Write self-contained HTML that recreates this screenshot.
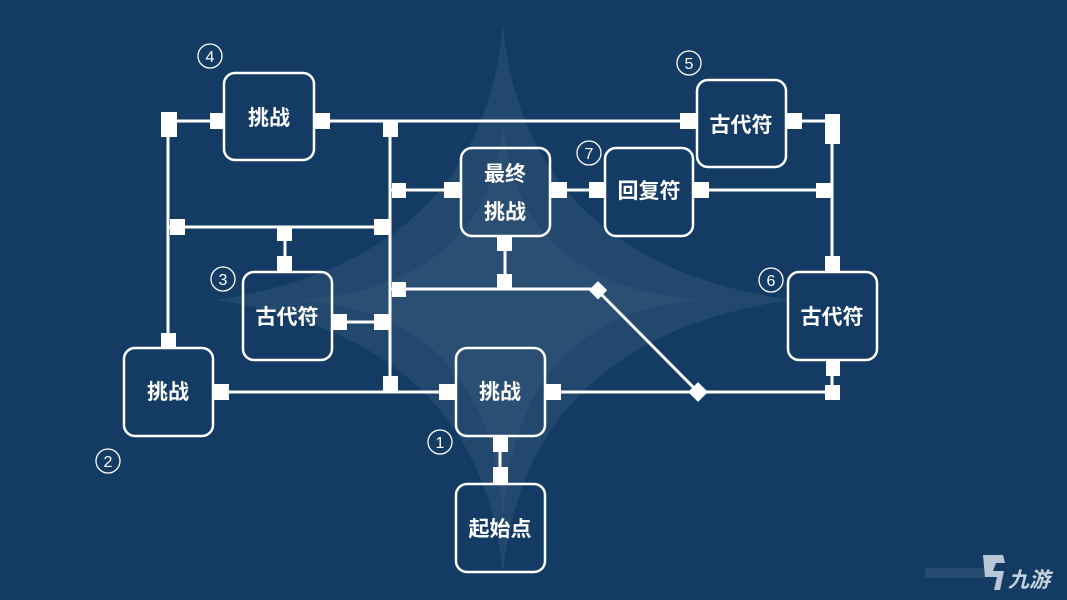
<!DOCTYPE html>
<html><head><meta charset="utf-8"><style>
html,body{margin:0;padding:0;background:#133b63;}
svg{display:block}
.n{fill:none;stroke:#fff;stroke-width:2.5}
.t{fill:#fff;font-family:"Liberation Sans","Noto Sans CJK SC",sans-serif;font-weight:bold;font-size:21px;text-anchor:middle}
.c{fill:none;stroke:#fff;stroke-width:1.3}
.ct{fill:#fff;font-family:"Liberation Sans",sans-serif;font-size:16px;text-anchor:middle}
</style></head><body>
<svg width="1067" height="600" viewBox="0 0 1067 600" xmlns="http://www.w3.org/2000/svg">
<rect width="1067" height="600" fill="#133b63"/>
<path d="M503,25 Q525,260 790,300 Q525,340 503,575 Q481,340 215,300 Q481,260 503,25 Z" fill="#ffffff" fill-opacity="0.065"/>
<path d="M503,120 Q515,285 700,300 Q515,315 503,520 Q491,315 300,300 Q491,285 503,120 Z" fill="#ffffff" fill-opacity="0.04"/>
<g stroke="#fff" stroke-width="3" fill="none">
<line x1="168" y1="121" x2="168" y2="345"/>
<line x1="168" y1="121" x2="224" y2="121"/>
<line x1="314" y1="121" x2="697" y2="121"/>
<line x1="786" y1="121" x2="832" y2="121"/>
<line x1="390" y1="121" x2="390" y2="392"/>
<line x1="168" y1="227" x2="390" y2="227"/>
<line x1="285" y1="227" x2="285" y2="272"/>
<line x1="390" y1="190" x2="461" y2="190"/>
<line x1="550" y1="190" x2="605" y2="190"/>
<line x1="693" y1="190" x2="832" y2="190"/>
<line x1="832" y1="121" x2="832" y2="272"/>
<line x1="390" y1="289" x2="598" y2="289"/>
<line x1="505" y1="236" x2="505" y2="289"/>
<line x1="598" y1="291" x2="698" y2="392"/>
<line x1="332" y1="322" x2="390" y2="322"/>
<line x1="213" y1="392" x2="456" y2="392"/>
<line x1="545" y1="392" x2="832" y2="392"/>
<line x1="832" y1="360" x2="832" y2="392"/>
<line x1="500" y1="436" x2="500" y2="484"/>
</g>
<g fill="#fff">
<rect x="161" y="112" width="16" height="25"/>
<rect x="210" y="113" width="15" height="16"/>
<rect x="314" y="113" width="16" height="16"/>
<rect x="383" y="121" width="15" height="16"/>
<rect x="680" y="113" width="17" height="16"/>
<rect x="786" y="113" width="16" height="16"/>
<rect x="825" y="114" width="15" height="30"/>
<rect x="392" y="183" width="14" height="15"/>
<rect x="444" y="182" width="17" height="16"/>
<rect x="550" y="182" width="17" height="16"/>
<rect x="589" y="182" width="16" height="16"/>
<rect x="693" y="182" width="16" height="16"/>
<rect x="816" y="183" width="16" height="15"/>
<rect x="170" y="219" width="15" height="16"/>
<rect x="374" y="219" width="16" height="16"/>
<rect x="277" y="226" width="15" height="15"/>
<rect x="277" y="256" width="15" height="16"/>
<rect x="825" y="256" width="15" height="16"/>
<rect x="497" y="236" width="15" height="15"/>
<rect x="497" y="274" width="15" height="15"/>
<rect x="392" y="282" width="14" height="15"/>
<rect x="332" y="314" width="15" height="16"/>
<rect x="374" y="314" width="16" height="16"/>
<rect x="161" y="333" width="15" height="15"/>
<rect x="213" y="384" width="16" height="16"/>
<rect x="383" y="376" width="15" height="16"/>
<rect x="439" y="384" width="17" height="16"/>
<rect x="545" y="384" width="16" height="16"/>
<rect x="826" y="360" width="14" height="16"/>
<rect x="825" y="385" width="15" height="15"/>
<rect x="493" y="436" width="15" height="16"/>
<rect x="493" y="467" width="15" height="17"/>
<rect x="591" y="284" width="13" height="13" transform="rotate(45 598 291)"/>
<rect x="691" y="385" width="14" height="14" transform="rotate(45 698 392)"/>
</g>
<g>
<rect class="n" x="224" y="73" width="90" height="87" rx="11"/>
<rect class="n" x="697" y="80" width="89" height="87" rx="11"/>
<rect class="n" x="461" y="148" width="89" height="88" rx="11"/>
<rect class="n" x="605" y="148" width="88" height="88" rx="11"/>
<rect class="n" x="243" y="272" width="89" height="88" rx="11"/>
<rect class="n" x="788" y="272" width="89" height="88" rx="11"/>
<rect class="n" x="124" y="348" width="89" height="88" rx="11"/>
<rect class="n" x="456" y="348" width="89" height="88" rx="11"/>
<rect class="n" x="456" y="484" width="89" height="88" rx="11"/>
</g>
<text class="t" x="269" y="125">挑战</text>
<text class="t" x="741" y="132">古代符</text>
<text class="t" x="505" y="181">最终</text>
<text class="t" x="505" y="219">挑战</text>
<text class="t" x="649" y="198">回复符</text>
<text class="t" x="287" y="324">古代符</text>
<text class="t" x="832" y="324">古代符</text>
<text class="t" x="168" y="399">挑战</text>
<text class="t" x="500" y="399">挑战</text>
<text class="t" x="500" y="536">起始点</text>
<g>
<circle class="c" cx="210" cy="56" r="12"/><text class="ct" x="210" y="62">4</text>
<circle class="c" cx="689" cy="63" r="12"/><text class="ct" x="689" y="69">5</text>
<circle class="c" cx="589" cy="153" r="12"/><text class="ct" x="589" y="159">7</text>
<circle class="c" cx="223" cy="279" r="12"/><text class="ct" x="223" y="285">3</text>
<circle class="c" cx="771" cy="280" r="12"/><text class="ct" x="771" y="286">6</text>
<circle class="c" cx="108" cy="461" r="12"/><text class="ct" x="108" y="467">2</text>
<circle class="c" cx="440" cy="442" r="12"/><text class="ct" x="440" y="448">1</text>
</g>
<rect x="925" y="568" width="60" height="10" fill="#ffffff" fill-opacity="0.08"/>
<path d="M983,555 L1003,555 L1005,563 L996,563 L993,571 L1004,571 L1000,590 L994,590 L997,577 L985,577 Z" fill="#b8c6d6"/>
<text x="1008" y="587" fill="#c8d3df" font-family="'Liberation Sans','Noto Sans CJK SC',sans-serif" font-size="21" font-weight="bold" font-style="italic">九游</text>
</svg>
</body></html>
